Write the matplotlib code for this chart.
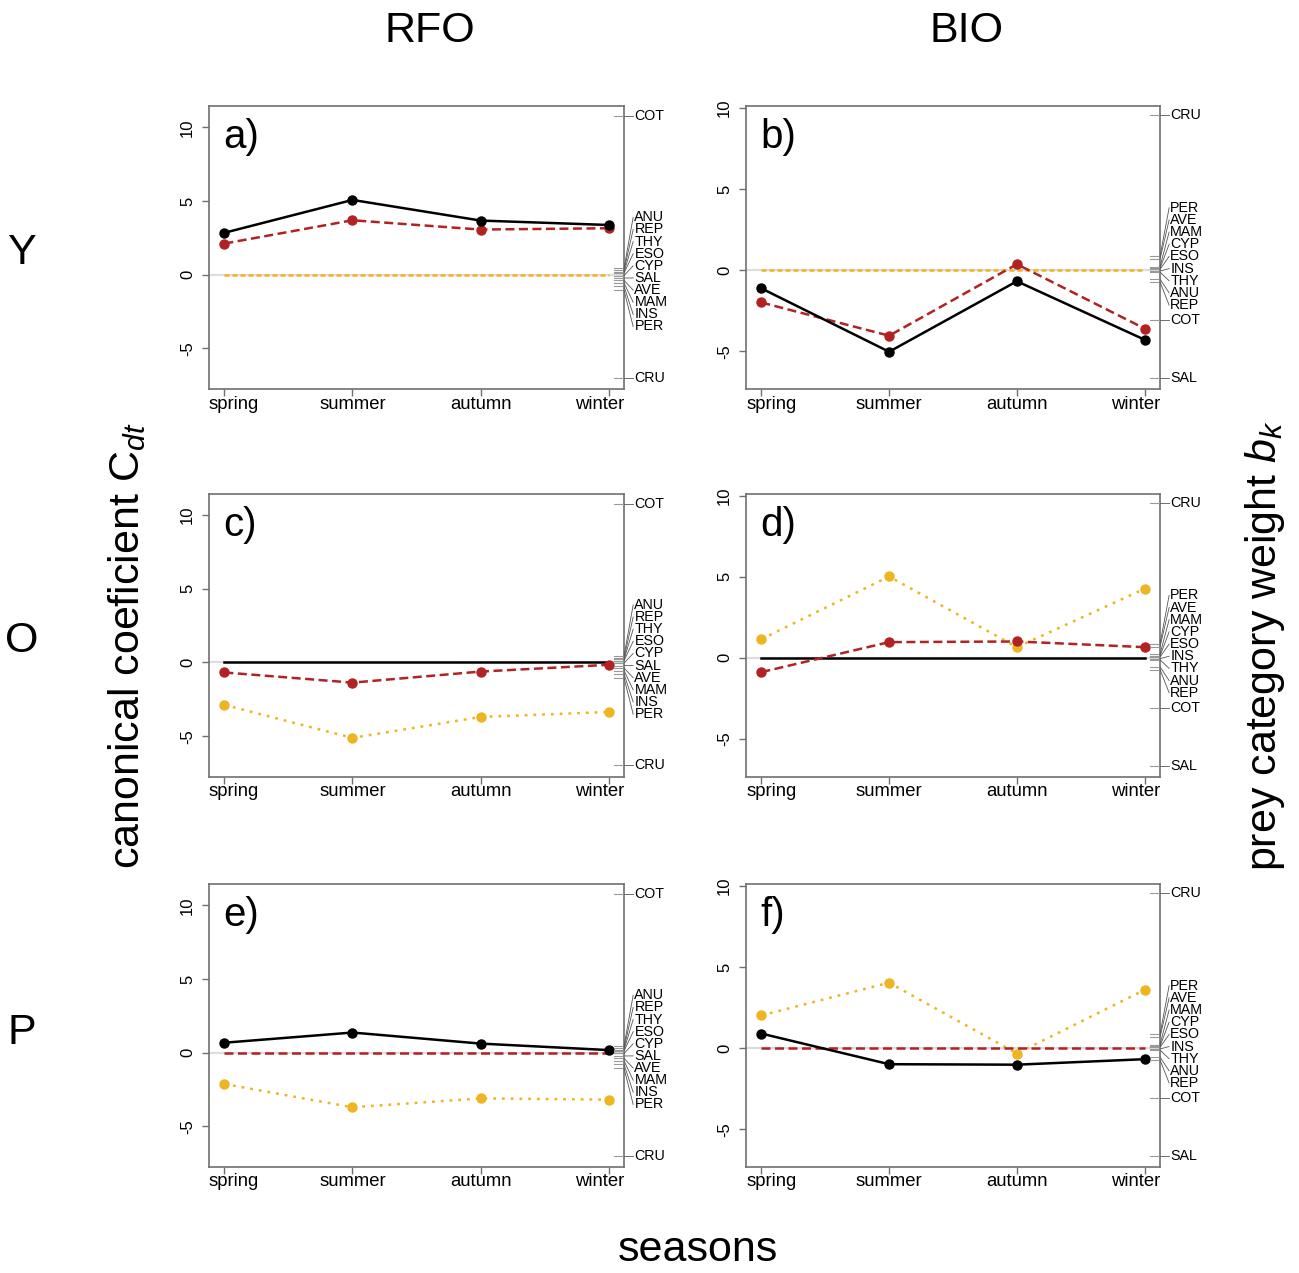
import matplotlib
matplotlib.use("Agg")
import matplotlib.pyplot as plt
import matplotlib.transforms as mtransforms

plt.rcParams['font.family'] = ['Liberation Sans', 'DejaVu Sans']
plt.rcParams['mathtext.fontset'] = 'custom'
plt.rcParams['mathtext.rm'] = 'Liberation Sans'
plt.rcParams['mathtext.it'] = 'Liberation Sans:italic'

# ---- data ----
seasons = ['spring', 'summer', 'autumn', 'winter']

# RFO column (rows Y, O, P)
rfo_Y_black = [2.85, 5.08, 3.68, 3.38]
rfo_Y_red = [2.12, 3.70, 3.07, 3.16]
rfo_Y_orange = [0, 0, 0, 0]

rfo_O_black = [0, 0, 0, 0]
rfo_O_red = [-0.68, -1.37, -0.62, -0.16]
rfo_O_orange = [-2.88, -5.12, -3.70, -3.36]

rfo_P_black = [0.68, 1.37, 0.62, 0.18]
rfo_P_red = [0, 0, 0, 0]
rfo_P_orange = [-2.12, -3.70, -3.10, -3.18]

# BIO column (rows Y, O, P)
bio_Y_black = [-1.12, -5.03, -0.68, -4.29]
bio_Y_red = [-1.99, -4.04, 0.37, -3.60]
bio_Y_orange = [0, 0, 0, 0]

bio_O_black = [0, 0, 0, 0]
bio_O_red = [-0.88, 0.97, 1.01, 0.66]
bio_O_orange = [1.15, 5.02, 0.66, 4.26]

bio_P_black = [0.90, -0.99, -1.02, -0.68]
bio_P_red = [0, 0, 0, 0]
bio_P_orange = [2.02, 4.04, -0.33, 3.60]

# prey category weights (right axis)
rfo_prey = ['COT', 'ANU', 'REP', 'THY', 'ESO', 'CYP', 'SAL', 'AVE', 'MAM', 'INS', 'PER', 'CRU']
rfo_weight = [10.77, 0.45, 0.30, 0.20, 0.12, -0.05, -0.22, -0.38, -0.55, -0.78, -1.05, -6.99]
bio_prey = ['CRU', 'PER', 'AVE', 'MAM', 'CYP', 'ESO', 'INS', 'THY', 'ANU', 'REP', 'COT', 'SAL']
bio_weight = [9.57, 0.85, 0.68, 0.22, 0.12, 0.05, -0.05, -0.12, -0.55, -0.72, -3.10, -6.65]

# which line in each row is the reference (drawn flat, no markers)
reference = ['orange', 'black', 'red']

# ---- style ----
RED = '#B22222'
ORANGE = '#EEB422'
GREY = '#707070'

panels = [
    ('a)', 0, 0, rfo_Y_black, rfo_Y_red, rfo_Y_orange),
    ('b)', 0, 1, bio_Y_black, bio_Y_red, bio_Y_orange),
    ('c)', 1, 0, rfo_O_black, rfo_O_red, rfo_O_orange),
    ('d)', 1, 1, bio_O_black, bio_O_red, bio_O_orange),
    ('e)', 2, 0, rfo_P_black, rfo_P_red, rfo_P_orange),
    ('f)', 2, 1, bio_P_black, bio_P_red, bio_P_orange),
]

col_left = [0.1609, 0.5743]
col_width = [0.3195, 0.3187]
row_bottom = [0.6944, 0.3899, 0.0833]
row_height = 0.2223
col_ylim = [(-7.75, 11.45), (-7.33, 10.13)]
col_prey = [(rfo_prey, rfo_weight), (bio_prey, bio_weight)]
# spread-out label layout for the crowded prey labels (top position, step)
col_label_layout = [(3.9, 0.823), (3.85, 0.75)]

fig = plt.figure(figsize=(12.99, 12.73), dpi=100)
x = list(range(1, 5))

for letter, r, c, black, red, orange in panels:
    ax = fig.add_axes([col_left[c], row_bottom[r], col_width[c], row_height])
    ax.set_xlim(0.88, 4.12)
    ax.set_ylim(*col_ylim[c])
    ax.axhline(0, color='#DDDDDD', lw=1.6, zorder=1)

    ref = reference[r]
    # black series
    if ref == 'black':
        ax.plot(x, black, color='black', lw=1.8, zorder=3)
    else:
        ax.plot(x, black, color='black', lw=1.8, marker='o', ms=6.5, zorder=4)
    # red series
    if ref == 'red':
        ax.plot(x, red, color=RED, lw=1.8, dashes=(3.6, 1.8), zorder=3)
    else:
        ax.plot(x, red, color=RED, lw=1.8, dashes=(3.6, 1.8), marker='o', ms=6.5, zorder=3)
    # orange series
    if ref == 'orange':
        ax.plot(x, orange, color=ORANGE, lw=1.8, dashes=(2.0, 1.2), zorder=2)
    else:
        ax.plot(x, orange, color=ORANGE, lw=1.8, dashes=(1.1, 2.4), marker='o', ms=6.5, zorder=2)

    ax.set_xticks(x)
    ax.set_xticklabels([])
    # season labels: end labels are kept inside the box width
    xtr = mtransforms.blended_transform_factory(ax.transData, ax.transAxes)
    for i, s in enumerate(seasons):
        if i == 0:
            ax.text(0.0, -0.053, s, transform=ax.transAxes, fontsize=13.3,
                    ha='left', va='center')
        elif i == len(seasons) - 1:
            ax.text(1.0, -0.053, s, transform=ax.transAxes, fontsize=13.3,
                    ha='right', va='center')
        else:
            ax.text(x[i], -0.053, s, transform=xtr, fontsize=13.3,
                    ha='center', va='center')
    ax.set_yticks([-5, 0, 5, 10])
    ax.set_yticklabels(['-5', '0', '5', '10'], fontsize=12, rotation=90, va='center')
    ax.tick_params(axis='both', direction='out', length=5, width=1, color=GREY)
    ax.tick_params(axis='y', pad=5)
    for sp in ax.spines.values():
        sp.set_color(GREY)
        sp.set_linewidth(1.2)

    ax.text(0.034, 0.89, letter, transform=ax.transAxes, fontsize=29,
            ha='left', va='center')

    # right-hand prey weight axis
    trans = mtransforms.blended_transform_factory(ax.transAxes, ax.transData)
    prey, weight = col_prey[c]
    top, step = col_label_layout[c]
    k = 0
    for name, w in zip(prey, weight):
        if abs(w) < 2:
            ly = top - k * step
            k += 1
        else:
            ly = w
        ax.plot([0.976, 1.0], [w, w], color='#999999', lw=0.8,
                transform=trans, clip_on=False, zorder=5)
        ax.plot([1.0, 1.022], [w, ly], color='#555555', lw=0.6,
                transform=trans, clip_on=False, zorder=5)
        ax.text(1.025, ly, name, transform=trans, fontsize=10.3,
                ha='left', va='center', clip_on=False)

# titles and outer labels
fig.text(0.331, 0.9756, 'RFO', fontsize=31, ha='center', va='center')
fig.text(0.7437, 0.9756, 'BIO', fontsize=31, ha='center', va='center')
for lab, yy in zip(['Y', 'O', 'P'], [0.8016, 0.4968, 0.1889]):
    fig.text(0.0169, yy, lab, fontsize=31, ha='center', va='center')
fig.text(0.098, 0.493, r'canonical coeficient C$_{dt}$', fontsize=31,
         rotation=90, ha='center', va='center')
fig.text(0.974, 0.493, r'prey category weight $b_k$', fontsize=31,
         rotation=90, ha='center', va='center')
fig.text(0.537, 0.018, 'seasons', fontsize=31, ha='center', va='center')

fig.savefig('out.png', dpi=100)
